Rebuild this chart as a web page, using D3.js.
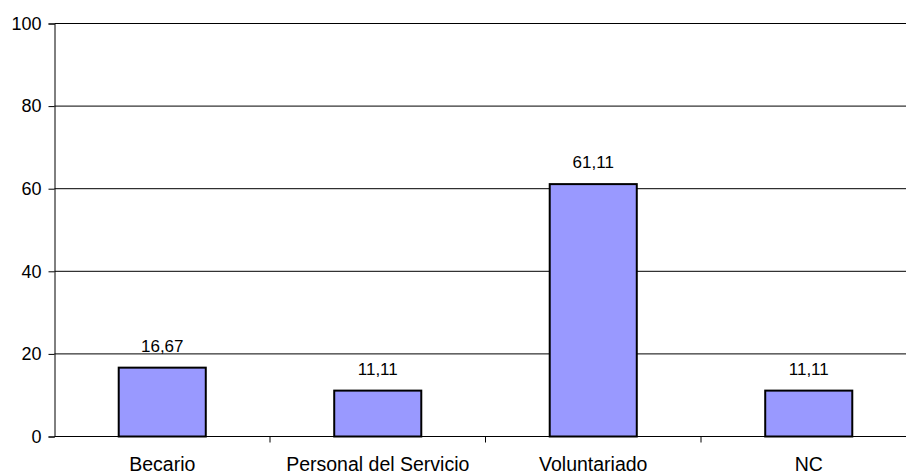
<!DOCTYPE html>
<html>
<head>
<meta charset="utf-8">
<script src="https://cdn.jsdelivr.net/npm/d3@7"></script>
<style>
  body { margin: 0; background: #fff; }
  text { font-family: "Liberation Sans", Arial, sans-serif; font-size: 18px; fill: #000; }
</style>
</head>
<body>
<div id="chart"></div>
<script>
const categories = ["Becario", "Personal del Servicio", "Voluntariado", "NC"];
const values = [16.67, 11.11, 61.11, 11.11];
const yTicks = [0, 20, 40, 60, 80, 100];

const width = 906, height = 472;
const mLeft = 54.5, mTop = 23.5, mBottom = 436.5, mRight = mLeft + 4 * 215.5;

const svg = d3.select("#chart").append("svg")
  .attr("width", width)
  .attr("height", height);

const x = d3.scaleBand().domain(categories).range([mLeft, mRight]).paddingInner(0.596).paddingOuter(0.298);
const band = d3.scaleBand().domain(categories).range([mLeft, mRight]);
const y = d3.scaleLinear().domain([0, 100]).range([mBottom, mTop]);

// grid
svg.append("g").selectAll("line")
  .data(yTicks.filter(d => d > 0))
  .enter().append("line")
  .attr("x1", mLeft).attr("x2", mRight)
  .attr("y1", d => y(d)).attr("y2", d => y(d))
  .attr("stroke", "#000").attr("stroke-width", 1);

// y axis
const yAxis = svg.append("g")
  .attr("transform", "translate(" + mLeft + ",0)")
  .call(d3.axisLeft(y).tickValues(yTicks).tickSize(6).tickPadding(7).tickFormat(d3.format("d")));
yAxis.select(".domain").attr("stroke", "#000");
yAxis.selectAll("text").style("font-size", "18px").style("font-family", "Liberation Sans, Arial, sans-serif");

// bars
svg.append("g").selectAll("rect")
  .data(values)
  .enter().append("rect")
  .attr("x", (d, i) => x(categories[i]))
  .attr("y", d => y(d))
  .attr("width", x.bandwidth())
  .attr("height", d => y(0) - y(d))
  .attr("fill", "#9999ff")
  .attr("stroke", "#000")
  .attr("stroke-width", 2);

// x axis
svg.append("line")
  .attr("x1", mLeft).attr("x2", mRight)
  .attr("y1", mBottom).attr("y2", mBottom)
  .attr("stroke", "#000");
svg.append("g").selectAll("line")
  .data(categories.slice(1))
  .enter().append("line")
  .attr("x1", d => band(d)).attr("x2", d => band(d))
  .attr("y1", mBottom).attr("y2", mBottom + 6)
  .attr("stroke", "#000");

svg.append("g").selectAll("text")
  .data(categories)
  .enter().append("text")
  .attr("x", d => band(d) + band.bandwidth() / 2)
  .attr("y", mBottom + 34.5)
  .attr("text-anchor", "middle")
  .style("font-size", "19.5px")
  .text(d => d);

// value labels
svg.append("g").selectAll("text")
  .data(values)
  .enter().append("text")
  .attr("x", (d, i) => x(categories[i]) + x.bandwidth() / 2)
  .attr("y", d => y(d) - 16)
  .attr("text-anchor", "middle")
  .style("font-size", "17px")
  .text(d => d3.format(".2f")(d).replace(".", ","));
</script>
</body>
</html>
